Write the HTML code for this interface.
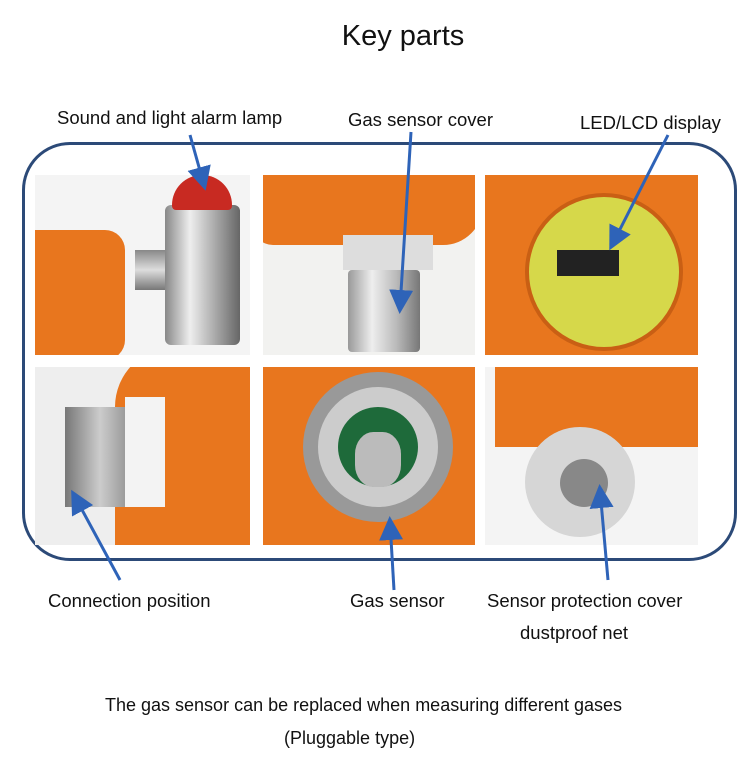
<!DOCTYPE html>
<html><head><meta charset="utf-8"><style>
html,body{margin:0;padding:0;background:#fff;width:746px;height:774px;overflow:hidden;position:relative;font-family:"Liberation Sans",sans-serif;color:#111}
.t{position:absolute;white-space:nowrap;font-size:18.5px}
.p{position:absolute;overflow:hidden}
</style></head><body>
<div class="t" style="left:0;width:806px;text-align:center;top:20px;font-size:29px">Key parts</div>
<div class="t" style="left:57px;top:107px">Sound and light alarm lamp</div>
<div class="t" style="left:348px;top:109px">Gas sensor cover</div>
<div class="t" style="left:580px;top:112px">LED/LCD display</div>

<div style="position:absolute;left:22px;top:142px;width:709px;height:413px;border:3px solid #2c4a78;border-radius:48px"></div>

<div class="p" style="left:35px;top:175px;width:215px;height:180px;background:#f4f4f4">
 <div style="position:absolute;left:-20px;top:55px;width:110px;height:130px;background:#e8761e;border-radius:20px"></div>
 <div style="position:absolute;left:100px;top:75px;width:40px;height:40px;background:linear-gradient(#888,#ddd,#777)"></div>
 <div style="position:absolute;left:130px;top:30px;width:75px;height:140px;background:linear-gradient(90deg,#888,#eee,#aaa,#666);border-radius:6px"></div>
 <div style="position:absolute;left:137px;top:0;width:60px;height:35px;background:#c82a22;border-radius:30px 30px 4px 4px"></div>
</div>
<div class="p" style="left:263px;top:175px;width:212px;height:180px;background:#f2f2f0">
 <div style="position:absolute;left:-10px;top:-20px;width:230px;height:90px;background:#e8761e;border-radius:0 0 40px 20px"></div>
 <div style="position:absolute;left:80px;top:60px;width:90px;height:35px;background:#ddd"></div>
 <div style="position:absolute;left:85px;top:95px;width:72px;height:82px;background:linear-gradient(90deg,#999,#eee,#bbb,#777);border-radius:4px"></div>
</div>
<div class="p" style="left:485px;top:175px;width:213px;height:180px;background:#e8761e">
 <div style="position:absolute;left:40px;top:18px;width:150px;height:150px;background:#d6d84a;border-radius:50%;border:4px solid #c95f14"></div>
 <div style="position:absolute;left:72px;top:75px;width:62px;height:26px;background:#222"></div>
</div>
<div class="p" style="left:35px;top:367px;width:215px;height:178px;background:#eee">
 <div style="position:absolute;left:80px;top:-20px;width:160px;height:210px;background:#e8761e;border-radius:60px 0 0 0"></div>
 <div style="position:absolute;left:30px;top:40px;width:70px;height:100px;background:linear-gradient(90deg,#777,#ccc,#888)"></div>
 <div style="position:absolute;left:90px;top:30px;width:40px;height:110px;background:#f3f3f3"></div>
</div>
<div class="p" style="left:263px;top:367px;width:212px;height:178px;background:#e8761e">
 <div style="position:absolute;left:40px;top:5px;width:150px;height:150px;background:#999;border-radius:50%"></div>
 <div style="position:absolute;left:55px;top:20px;width:120px;height:120px;background:#ccc;border-radius:50%"></div>
 <div style="position:absolute;left:75px;top:40px;width:80px;height:80px;background:#1e6a3a;border-radius:50%"></div>
 <div style="position:absolute;left:92px;top:65px;width:46px;height:55px;background:#bbb;border-radius:40%"></div>
</div>
<div class="p" style="left:485px;top:367px;width:213px;height:178px;background:#f4f4f4">
 <div style="position:absolute;left:10px;top:0;width:203px;height:80px;background:#e8761e"></div>
 <div style="position:absolute;left:40px;top:60px;width:110px;height:110px;background:#d6d6d6;border-radius:50%"></div>
 <div style="position:absolute;left:75px;top:92px;width:48px;height:48px;background:#888;border-radius:50%"></div>
</div>

<svg style="position:absolute;left:0;top:0" width="746" height="774">
<defs><marker id="a" markerWidth="8" markerHeight="8" refX="6" refY="4" orient="auto"><path d="M0,0L8,4L0,8z" fill="#2e63b8"/></marker></defs>
<g stroke="#2e63b8" stroke-width="3" marker-end="url(#a)">
<line x1="190" y1="135" x2="204" y2="185"/>
<line x1="411" y1="132" x2="400" y2="308"/>
<line x1="668" y1="135" x2="612" y2="245"/>
<line x1="120" y1="580" x2="74" y2="495"/>
<line x1="394" y1="590" x2="390" y2="522"/>
<line x1="608" y1="580" x2="600" y2="490"/>
</g></svg>
<div class="t" style="left:48px;top:590px">Connection position</div>
<div class="t" style="left:350px;top:590px">Gas sensor</div>
<div class="t" style="left:487px;top:590px">Sensor protection cover</div>
<div class="t" style="left:520px;top:622px">dustproof net</div>
<div class="t" style="left:105px;top:695px;font-size:18px">The gas sensor can be replaced when measuring different gases</div>
<div class="t" style="left:284px;top:728px;font-size:18px">(Pluggable type)</div>
</body></html>
